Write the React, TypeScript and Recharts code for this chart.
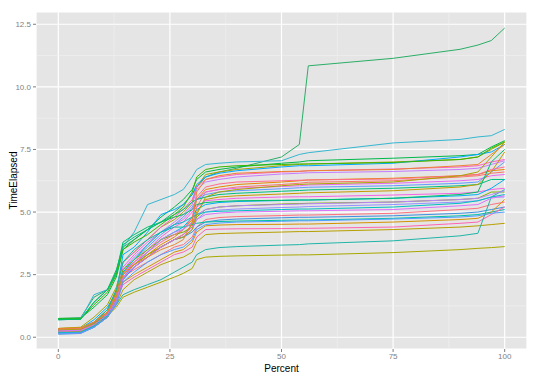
import { LineChart, Line, XAxis, YAxis, CartesianGrid, ReferenceLine } from 'recharts'

// x positions (Percent) shared by every run
const percent = [0, 5, 8, 11, 13, 14.5, 17, 20, 23, 26, 28, 30, 31, 33, 36, 40, 50, 54, 56, 75, 90, 94, 97, 100]

// TimeElapsed per run
const r01 = [0.75, 0.78, 1.6, 1.9, 2.7, 3.6, 3.9, 4.3, 4.6, 5.0, 5.3, 5.7, 6.0, 6.4, 6.6, 6.75, 7.2, 7.7, 10.84, 11.14, 11.5, 11.67, 11.85, 12.35]
const r02 = [0.7, 0.72, 1.7, 1.9, 2.5, 3.6, 4.2, 5.3, 5.5, 5.7, 5.9, 6.4, 6.7, 6.9, 6.95, 7.0, 7.05, 7.3, 7.37, 7.76, 7.9, 8.0, 8.05, 8.3]
const r03 = [0.75, 0.76, 1.2, 1.7, 2.4, 3.5, 3.9, 4.3, 4.8, 5.2, 5.5, 5.9, 6.3, 6.6, 6.7, 6.8, 6.95, 7.0, 7.05, 7.15, 7.25, 7.3, 7.6, 7.85]
const r04 = [0.35, 0.4, 0.8, 1.3, 2.0, 3.0, 3.4, 3.9, 4.4, 4.7, 5.0, 5.4, 6.0, 6.5, 6.6, 6.7, 6.85, 6.9, 6.92, 7.0, 7.1, 7.2, 7.5, 7.8]
const r05 = [0.3, 0.35, 0.7, 1.2, 1.8, 3.3, 3.6, 4.2, 4.9, 5.1, 5.3, 5.7, 6.1, 6.4, 6.55, 6.65, 6.8, 6.85, 6.85, 6.95, 7.2, 7.3, 7.4, 7.7]
const r06 = [0.25, 0.3, 0.6, 1.1, 1.9, 3.0, 3.4, 3.9, 4.4, 4.8, 5.1, 5.5, 6.0, 6.3, 6.4, 6.5, 6.6, 6.62, 6.65, 6.72, 6.8, 6.85, 7.0, 7.1]
const r07 = [0.2, 0.25, 0.5, 0.9, 1.6, 2.7, 3.2, 3.7, 4.2, 4.6, 4.9, 5.3, 5.9, 6.2, 6.3, 6.4, 6.52, 6.55, 6.57, 6.62, 6.7, 6.75, 6.9, 7.05]
const r08 = [0.3, 0.35, 0.6, 1.0, 1.7, 2.5, 2.9, 3.3, 3.7, 4.0, 4.3, 4.7, 5.5, 5.9, 6.0, 6.1, 6.2, 6.25, 6.28, 6.35, 6.45, 6.5, 6.65, 6.7]
const r09 = [0.3, 0.32, 0.55, 0.9, 1.5, 2.4, 2.8, 3.2, 3.6, 3.9, 4.1, 4.4, 5.2, 5.8, 5.9, 6.0, 6.1, 6.15, 6.19, 6.25, 6.4, 6.45, 6.55, 6.6]
const r10 = [0.22, 0.25, 0.5, 0.95, 1.6, 2.8, 3.3, 3.8, 4.2, 4.5, 4.7, 5.1, 5.5, 5.8, 5.9, 5.95, 6.02, 6.05, 6.08, 6.15, 6.25, 6.3, 6.45, 6.5]
const r11 = [0.15, 0.18, 0.45, 0.9, 1.5, 2.6, 3.1, 3.6, 4.1, 4.5, 4.8, 5.2, 5.5, 5.7, 5.8, 5.85, 5.93, 5.97, 5.99, 6.05, 6.15, 6.2, 6.6, 7.0]
const r12 = [0.7, 0.72, 1.4, 1.9, 2.6, 3.7, 4.0, 4.3, 4.6, 4.9, 5.1, 5.4, 5.5, 5.6, 5.7, 5.75, 5.83, 5.86, 5.88, 5.95, 6.05, 6.1, 6.3, 6.3]
const r13 = [0.35, 0.38, 0.6, 1.0, 1.8, 2.6, 2.9, 3.3, 3.6, 3.9, 4.1, 4.5, 5.0, 5.5, 5.6, 5.65, 5.72, 5.75, 5.77, 5.85, 6.0, 6.1, 6.6, 7.4]
const r14 = [0.2, 0.22, 0.5, 0.9, 1.5, 2.5, 3.0, 3.5, 4.0, 4.4, 4.6, 5.0, 5.2, 5.45, 5.5, 5.55, 5.6, 5.61, 5.61, 5.68, 5.75, 5.8, 5.9, 5.95]
const r15 = [0.15, 0.18, 0.4, 0.8, 1.4, 2.4, 2.9, 3.4, 3.9, 4.2, 4.4, 4.8, 5.1, 5.3, 5.38, 5.42, 5.46, 5.48, 5.48, 5.55, 5.65, 5.7, 5.95, 6.3]
const r16 = [0.3, 0.34, 0.6, 1.1, 1.8, 2.7, 3.1, 3.5, 3.9, 4.1, 4.2, 4.4, 4.8, 5.1, 5.2, 5.25, 5.32, 5.34, 5.35, 5.4, 5.5, 5.55, 5.8, 5.8]
const r17 = [0.2, 0.22, 0.45, 0.85, 1.4, 2.3, 2.8, 3.2, 3.6, 3.9, 4.0, 4.3, 4.7, 5.0, 5.08, 5.12, 5.18, 5.2, 5.22, 5.3, 5.4, 5.45, 5.6, 5.6]
const r18 = [0.3, 0.33, 0.55, 0.95, 1.6, 2.4, 2.7, 3.0, 3.3, 3.6, 3.7, 4.0, 4.4, 4.7, 4.78, 4.82, 4.86, 4.88, 4.88, 4.95, 5.1, 5.15, 5.3, 5.4]
const r19 = [0.12, 0.15, 0.4, 0.8, 1.4, 2.3, 2.8, 3.2, 3.6, 3.9, 4.0, 4.2, 4.4, 4.6, 4.68, 4.72, 4.77, 4.79, 4.79, 4.85, 4.95, 5.0, 5.1, 5.2]
const r20 = [0.25, 0.3, 0.6, 1.1, 1.9, 3.0, 3.5, 3.9, 4.2, 4.4, 4.4, 4.5, 4.55, 4.6, 4.62, 4.64, 4.67, 4.68, 4.68, 4.75, 4.85, 4.9, 5.0, 5.1]
const r21 = [0.3, 0.33, 0.55, 0.9, 1.5, 2.2, 2.5, 2.8, 3.1, 3.4, 3.5, 3.8, 4.2, 4.45, 4.48, 4.5, 4.51, 4.52, 4.52, 4.6, 4.7, 4.75, 5.0, 5.5]
const r22 = [0.28, 0.3, 0.5, 0.85, 1.45, 2.1, 2.4, 2.7, 3.0, 3.3, 3.4, 3.6, 4.0, 4.3, 4.32, 4.33, 4.34, 4.35, 4.35, 4.4, 4.55, 4.6, 4.9, 5.2]
const r23 = [0.2, 0.22, 0.45, 0.8, 1.3, 1.9, 2.3, 2.6, 2.9, 3.1, 3.2, 3.4, 3.8, 4.1, 4.14, 4.16, 4.2, 4.22, 4.22, 4.3, 4.4, 4.45, 4.5, 4.55]
const r24 = [0.3, 0.32, 0.55, 0.9, 1.3, 1.7, 1.9, 2.1, 2.3, 2.6, 2.8, 3.0, 3.3, 3.5, 3.58, 3.62, 3.68, 3.7, 3.73, 3.85, 4.05, 4.15, 5.6, 5.9]
const r25 = [0.3, 0.32, 0.5, 0.85, 1.2, 1.6, 1.8, 2.0, 2.2, 2.4, 2.55, 2.75, 3.1, 3.2, 3.23, 3.25, 3.28, 3.29, 3.29, 3.38, 3.5, 3.55, 3.58, 3.62]
const r26 = [0.72, 0.74, 1.3, 1.8, 2.5, 3.5, 3.8, 4.1, 4.5, 4.9, 5.2, 5.8, 6.4, 6.7, 6.8, 6.85, 6.9, 6.92, 6.92, 6.98, 7.1, 7.2, 7.55, 7.8]
const r27 = [0.32, 0.35, 0.6, 1.0, 1.7, 2.6, 3.0, 3.4, 3.8, 4.1, 4.3, 4.8, 5.6, 6.0, 6.12, 6.2, 6.25, 6.27, 6.28, 6.32, 6.45, 6.5, 6.7, 6.8]
const r28 = [0.15, 0.17, 0.4, 0.8, 1.4, 2.4, 2.9, 3.4, 3.9, 4.2, 4.3, 4.6, 4.9, 5.1, 5.2, 5.25, 5.3, 5.32, 5.33, 5.4, 5.5, 5.55, 5.7, 5.85]
const r29 = [0.18, 0.2, 0.45, 0.85, 1.5, 2.6, 3.1, 3.7, 4.2, 4.5, 4.6, 4.8, 4.9, 5.0, 5.03, 5.05, 5.1, 5.12, 5.12, 5.2, 5.35, 5.45, 5.6, 5.7]
const r30 = [0.28, 0.3, 0.55, 1.0, 1.6, 2.5, 2.9, 3.3, 3.6, 3.9, 4.0, 4.3, 4.9, 5.6, 5.8, 5.9, 6.05, 6.1, 6.12, 6.2, 6.45, 6.6, 7.2, 7.8]
const r31 = [0.7, 0.72, 1.4, 1.9, 2.6, 3.8, 4.1, 4.4, 4.6, 4.8, 4.9, 5.1, 5.3, 5.38, 5.42, 5.45, 5.47, 5.48, 5.48, 5.55, 5.7, 5.8, 7.0, 7.5]
const r32 = [0.25, 0.28, 0.5, 0.9, 1.5, 2.4, 2.8, 3.2, 3.6, 3.9, 4.1, 4.4, 4.7, 4.9, 4.96, 5.0, 5.03, 5.05, 5.05, 5.1, 5.25, 5.3, 5.55, 5.65]
const r33 = [0.15, 0.17, 0.4, 0.8, 1.3, 2.2, 2.6, 3.0, 3.3, 3.5, 3.6, 3.9, 4.3, 4.5, 4.56, 4.6, 4.63, 4.65, 4.65, 4.72, 4.8, 4.85, 4.95, 5.0]
const r34 = [0.35, 0.37, 0.6, 1.0, 1.6, 2.5, 2.9, 3.2, 3.5, 3.7, 3.9, 4.6, 5.8, 6.3, 6.45, 6.55, 6.62, 6.63, 6.65, 6.7, 6.85, 6.9, 7.3, 7.7]

const runs = [r01, r02, r03, r04, r05, r06, r07, r08, r09, r10, r11, r12, r13, r14, r15, r16, r17,
  r18, r19, r20, r21, r22, r23, r24, r25, r26, r27, r28, r29, r30, r31, r32, r33, r34]

// ggplot-ish hue colours, one per run
const colors = ['#2BAE66', '#35B7D0', '#00B84A', '#A3A500', '#00A9FF', '#FF61C3', '#C77CFF', '#E58700',
  '#F8766D', '#E76BF3', '#619CFF', '#00BF7D', '#C49A00', '#F564E3', '#00B0F6', '#7CAE00', '#9590FF',
  '#FC717F', '#3F8FE0', '#00C1A3', '#D39200', '#FF64B0', '#B79F00', '#1FB5A8', '#A8A800', '#39B600',
  '#FF6C91', '#B983FF', '#00BFC4', '#ABA300', '#00BE67', '#DB72FB', '#529EFF', '#EA8331']

const xTicks = [0, 25, 50, 75, 100]
const yTicks = [0, 2.5, 5, 7.5, 10, 12.5]
const xMinor = [12.5, 37.5, 62.5, 87.5]
const yMinor = [1.25, 3.75, 6.25, 8.75, 11.25]

const data = percent.map((p, i) => {
  const row: Record<string, number> = { p }
  runs.forEach((r, k) => { row['run' + k] = r[i] })
  return row
})

const tickStyle = { fontSize: 8, fill: '#7F7F7F' }

export default function App() {
  return (
    <div style={{ position: 'absolute', left: 0, top: 0, width: 540, height: 378, background: '#fff',
      fontFamily: '"Liberation Sans", Arial, sans-serif' }}>
      <LineChart width={540} height={378} data={data} margin={{ top: 12, right: 13, left: 0, bottom: 0 }}>
        <CartesianGrid stroke="#fff" strokeWidth={1.2} fill="#E5E5E5" />
        {xMinor.map((x) => (
          <ReferenceLine key={'vx' + x} x={x} stroke="#F2F2F2" strokeWidth={0.6} />
        ))}
        {yMinor.map((y) => (
          <ReferenceLine key={'hy' + y} y={y} stroke="#F2F2F2" strokeWidth={0.6} />
        ))}
        <XAxis
          dataKey="p"
          type="number"
          domain={[-5, 105]}
          ticks={xTicks}
          allowDataOverflow
          height={29}
          axisLine={false}
          tickSize={3}
          tickLine={{ stroke: '#7F7F7F' }}
          tick={tickStyle}
          tickMargin={1}
          label={{ value: 'Percent', position: 'insideBottom', offset: 6, fontSize: 10, fill: '#000' }}
        />
        <YAxis
          type="number"
          domain={[-0.47, 12.99]}
          ticks={yTicks}
          allowDataOverflow
          width={36}
          axisLine={false}
          tickSize={3}
          tickLine={{ stroke: '#7F7F7F' }}
          tick={tickStyle}
          tickMargin={2}
          tickFormatter={(v: number) => v.toFixed(1)}
          label={{ value: 'TimeElapsed', angle: -90, position: 'insideLeft', offset: 13, fontSize: 10, fill: '#000', style: { textAnchor: 'middle' } }}
        />
        {runs.map((_, k) => (
          <Line
            key={k}
            type="linear"
            dataKey={'run' + k}
            stroke={colors[k]}
            strokeWidth={1}
            dot={false}
            isAnimationActive={false}
          />
        ))}
      </LineChart>
    </div>
  )
}
